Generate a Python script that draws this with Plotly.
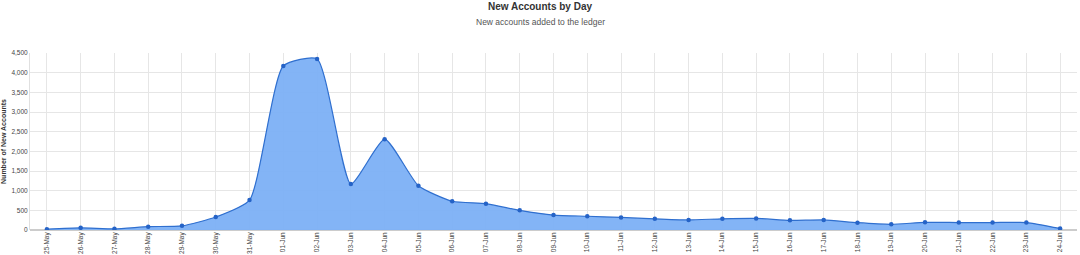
import plotly.graph_objects as go

days = ["25-May", "26-May", "27-May", "28-May", "29-May", "30-May", "31-May",
        "01-Jun", "02-Jun", "03-Jun", "04-Jun", "05-Jun", "06-Jun", "07-Jun",
        "08-Jun", "09-Jun", "10-Jun", "11-Jun", "12-Jun", "13-Jun", "14-Jun",
        "15-Jun", "16-Jun", "17-Jun", "18-Jun", "19-Jun", "20-Jun", "21-Jun",
        "22-Jun", "23-Jun", "24-Jun"]
new_accounts = [20, 55, 30, 85, 105, 330, 760,
                4170, 4350, 1170, 2310, 1125, 730, 670,
                500, 380, 350, 320, 285, 255, 285,
                295, 245, 255, 185, 145, 195, 190,
                190, 190, 40]
y_ticks = [0, 500, 1000, 1500, 2000, 2500, 3000, 3500, 4000, 4500]

font = "Liberation Sans, Arial, sans-serif"

fig = go.Figure()
fig.add_trace(go.Scatter(
    x=days, y=new_accounts, mode="lines+markers",
    line=dict(shape="spline", smoothing=0.55, color="#2f6fcf", width=1.2),
    marker=dict(size=4.5, color="#2563c7"),
    fill="tozeroy", fillcolor="rgba(124,176,245,0.95)",
    hoverinfo="x+y",
))

fig.update_layout(
    width=1080, height=255,
    margin=dict(l=30, r=3, t=53, b=25),
    paper_bgcolor="white", plot_bgcolor="white",
    showlegend=False,
    font=dict(family=font, size=7, color="#333333"),
    title=dict(text="<b>New Accounts by Day</b>", x=0.5, xref="paper", xanchor="center",
               y=0.99, yanchor="top", font=dict(size=10, color="#333333", family=font)),
)
fig.update_layout(title=dict(xref="container"))
fig.add_annotation(text="New accounts added to the ledger", xref="paper", yref="paper",
                   x=(540 - 30) / 1047, y=1.0 + 31 / 177, xanchor="center", yanchor="middle",
                   showarrow=False, font=dict(size=8.5, color="#555555", family=font))
fig.update_xaxes(
    type="category", range=[-0.5, len(days) - 0.5],
    tickangle=-90, tickfont=dict(size=6.5, color="#444444"),
    showgrid=True, gridcolor="#e6e6e6", gridwidth=1,
    showline=False, zeroline=False, ticks="",
    automargin=False, fixedrange=True,
)
fig.update_yaxes(
    range=[0, 4500], tickvals=y_ticks, tickformat=",",
    tickfont=dict(size=6.5, color="#444444"),
    showgrid=True, gridcolor="#e6e6e6", gridwidth=1,
    showline=True, linecolor="#e0e0e0", zeroline=True, zerolinecolor="#cccccc",
    title=dict(text="<b>Number of New Accounts</b>", font=dict(size=7, color="#333333"), standoff=4),
    automargin=False, fixedrange=True,
)

fig.write_html("out.html")
